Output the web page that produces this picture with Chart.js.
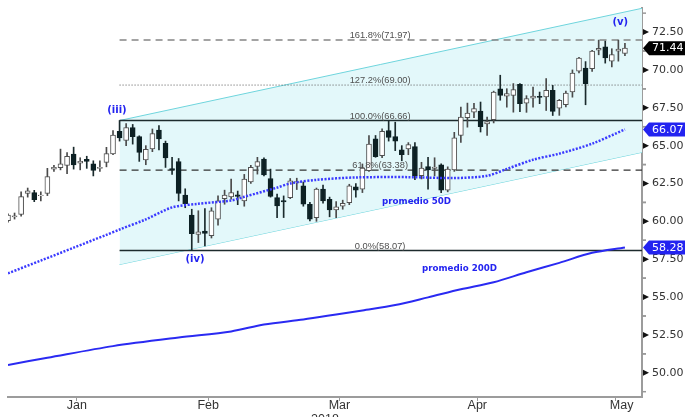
<!DOCTYPE html>
<html>
<head>
<meta charset="utf-8">
<script src="https://cdn.jsdelivr.net/npm/chart.js@4/dist/chart.umd.min.js"></script>
<style>
  html, body { margin: 0; padding: 0; background: #fff; }
  canvas { display: block; }
</style>
</head>
<body>
<canvas id="wtiChart" width="685" height="417"></canvas>
<script>
// daily candles, WTI crude
const dates = [
    '2017-12-29',
    '2018-01-02','2018-01-03','2018-01-04','2018-01-05','2018-01-08','2018-01-09','2018-01-10','2018-01-11','2018-01-12','2018-01-16',
    '2018-01-17','2018-01-18','2018-01-19','2018-01-22','2018-01-23','2018-01-24','2018-01-25','2018-01-26','2018-01-29','2018-01-30','2018-01-31',
    '2018-02-01','2018-02-02','2018-02-05','2018-02-06','2018-02-07','2018-02-08','2018-02-09','2018-02-12','2018-02-13','2018-02-14',
    '2018-02-15','2018-02-16','2018-02-20','2018-02-21','2018-02-22','2018-02-23','2018-02-26','2018-02-27','2018-02-28',
    '2018-03-01','2018-03-02','2018-03-05','2018-03-06','2018-03-07','2018-03-08','2018-03-09','2018-03-12','2018-03-13','2018-03-14',
    '2018-03-15','2018-03-16','2018-03-19','2018-03-20','2018-03-21','2018-03-22','2018-03-23','2018-03-26','2018-03-27','2018-03-28','2018-03-29',
    '2018-04-02','2018-04-03','2018-04-04','2018-04-05','2018-04-06','2018-04-09','2018-04-10','2018-04-11','2018-04-12','2018-04-13',
    '2018-04-16','2018-04-17','2018-04-18','2018-04-19','2018-04-20','2018-04-23','2018-04-24','2018-04-25','2018-04-26','2018-04-27','2018-04-30',
    '2018-05-01','2018-05-02','2018-05-03','2018-05-04','2018-05-07','2018-05-08','2018-05-09','2018-05-10','2018-05-11','2018-05-14',
    '2018-05-15','2018-05-16'
];

const openP = [
    60.05, 60.30, 60.45, 61.85, 61.90, 61.70, 61.85, 63.45, 63.55, 63.70,
    64.45, 63.85, 64.10, 63.80, 63.50, 63.90, 64.45, 65.95, 65.35, 66.20,
    65.60, 64.05, 64.78, 66.02, 65.16, 63.48, 63.95, 61.73, 60.42, 59.14,
    59.36, 59.05, 60.14, 61.50, 61.62, 61.75, 61.35, 62.61, 63.63, 64.12,
    62.83, 61.57, 61.38, 61.57, 62.55, 62.35, 61.13, 60.25, 62.13, 61.46,
    60.75, 61.00, 61.24, 62.28, 62.13, 63.34, 65.45, 64.34, 66.00, 65.60,
    64.72, 64.78, 64.93, 63.01, 63.61, 63.50, 63.74, 62.06, 63.39, 65.67,
    66.84, 67.21, 67.28, 66.44, 66.71, 68.76, 68.27, 68.32, 69.05, 67.81,
    68.14, 68.25, 68.21, 68.65, 67.48, 67.70, 68.54, 69.91, 70.13, 70.09,
    71.31, 71.53, 70.58, 71.24, 71.09
];
const highP = [
    60.50, 60.55, 61.95, 62.20, 62.05, 61.95, 63.50, 63.70, 64.77, 64.55,
    64.90, 64.20, 64.30, 64.00, 64.00, 64.89, 66.00, 66.66, 66.45, 66.40,
    65.65, 65.00, 66.10, 66.33, 65.30, 64.23, 64.15, 62.15, 60.80, 60.70,
    60.85, 60.90, 61.68, 62.06, 62.79, 62.00, 63.10, 63.70, 64.23, 64.20,
    63.45, 61.80, 61.68, 62.83, 62.85, 62.60, 61.25, 62.20, 62.40, 61.60,
    61.30, 61.40, 62.45, 62.50, 63.79, 65.67, 65.67, 66.11, 66.66, 66.55,
    65.00, 65.20, 65.20, 63.90, 64.23, 64.20, 63.80, 63.60, 65.88, 67.54,
    67.81, 67.80, 67.88, 66.88, 68.60, 69.65, 68.76, 69.10, 69.10, 68.30,
    68.87, 68.54, 69.43, 68.98, 68.05, 68.60, 70.00, 70.84, 70.55, 71.30,
    71.97, 71.90, 71.40, 71.97, 71.75
];
const lowP = [
    59.95, 60.15, 60.35, 61.60, 61.30, 61.35, 61.70, 63.30, 63.40, 63.15,
    63.45, 63.40, 63.50, 63.00, 63.30, 63.60, 64.40, 65.30, 65.00, 65.10,
    63.96, 63.74, 64.60, 64.72, 63.56, 63.10, 61.35, 60.90, 58.07, 58.60,
    58.37, 58.90, 59.75, 61.13, 61.46, 61.10, 61.00, 62.50, 63.12, 63.00,
    61.60, 60.25, 60.25, 61.50, 62.10, 61.00, 60.03, 60.00, 61.20, 60.30,
    60.25, 60.80, 61.10, 61.60, 61.90, 63.30, 64.23, 64.20, 65.30, 64.67,
    64.00, 64.40, 62.75, 62.80, 62.13, 63.00, 61.90, 61.95, 63.30, 65.22,
    66.22, 66.85, 65.90, 65.67, 66.50, 68.00, 67.54, 67.21, 67.25, 67.20,
    67.54, 67.77, 67.32, 66.99, 67.00, 67.55, 68.20, 69.80, 67.70, 69.90,
    71.00, 70.45, 70.20, 70.58, 70.95
];
const closeP = [
    60.42, 60.37, 61.63, 62.01, 61.44, 61.73, 62.96, 63.57, 63.80, 64.30,
    63.73, 63.97, 63.95, 63.37, 63.57, 64.47, 65.70, 65.51, 66.20, 65.60,
    64.56, 64.75, 65.80, 65.45, 64.19, 63.39, 61.84, 61.17, 59.18, 59.30,
    59.20, 60.69, 61.35, 61.73, 61.90, 61.64, 62.79, 63.56, 63.94, 63.06,
    61.64, 61.02, 61.28, 62.68, 62.62, 61.13, 60.14, 62.13, 61.35, 60.75,
    60.96, 61.19, 62.35, 62.06, 63.52, 65.11, 64.27, 65.95, 65.55, 65.29,
    64.41, 65.07, 63.01, 63.52, 63.39, 63.58, 62.06, 63.46, 65.51, 66.88,
    67.15, 67.44, 66.26, 66.59, 68.54, 68.32, 68.43, 68.70, 67.77, 68.10,
    68.27, 68.18, 68.65, 67.26, 67.99, 68.47, 69.80, 70.79, 69.10, 71.24,
    71.42, 70.79, 71.02, 71.37, 71.44
];

// moving averages, read at a few points along each curve
const ma50Idx = [0, 5, 10, 15, 17, 21, 25, 29, 34, 36, 41, 43, 47, 53, 61, 68, 73, 76, 80, 84, 89, 94];
const ma50Val = [56.57, 57.41, 58.26, 59.11, 59.46, 60.13, 60.92, 61.16, 61.38, 61.62, 62.23, 62.50, 62.74, 62.90, 62.92, 62.86, 63.01, 63.46, 64.07, 64.47, 65.13, 66.07];
const ma200Idx = [0, 6, 16, 26, 34, 39, 45, 50, 54, 59, 64, 69, 74, 79, 84, 89, 94];
const ma200Val = [50.52, 50.99, 51.76, 52.33, 52.73, 53.19, 53.52, 53.85, 54.12, 54.47, 54.98, 55.51, 55.98, 56.64, 57.26, 57.92, 58.28];

// trend channel (iii) -> right edge
const channelIdx = [17, 96.6];
const channelUpper = [66.66, 74.07];
const channelLower = [57.15, 64.56];

// fibonacci levels
const fibNames = ['161.8%', '127.2%', '100.0%', '61.8%', '0.0%'];
const fibLevels = [71.97, 69.00, 66.66, 63.38, 58.07];

const yTicks = [50, 52.5, 55, 57.5, 60, 62.5, 65, 67.5, 70, 72.5];
const monthNames = ['Jan', 'Feb', 'Mar', 'Apr', 'May'];

const X_MIN = 0;
const X_MAX = 96.6;

const fibStyles = [
    { color: '#858585', dash: [7, 5], width: 1.5 },
    { color: '#555555', dash: [1, 2], width: 1 },
    { color: '#1d2b2d', dash: [], width: 1.5 },
    { color: '#333333', dash: [7, 5], width: 1.2 },
    { color: '#1d2b2d', dash: [], width: 1.5 }
];

const labels = [
    { text: '(iii)', x: 16.6, y: 67.32, font: 'bold 10px "DejaVu Sans"' },
    { text: '(iv)', x: 28.5, y: 57.5, font: 'bold 10px "DejaVu Sans"' },
    { text: '(v)', x: 93.3, y: 73.16, font: 'bold 10px "DejaVu Sans"' },
    { text: 'promedio 50D', x: 62.25, y: 61.28, font: 'bold 8.7px "DejaVu Sans"' },
    { text: 'promedio 200D', x: 68.8, y: 56.84, font: 'bold 8.7px "DejaVu Sans"' }
];

const BLUE = '#2323f0';
const UP_BORDER = '#505050';
const DOWN_FILL = '#0d2124';

function monthEnds() {
    const ends = [];
    for (let i = 0; i < dates.length - 1; i++) {
        if (dates[i].slice(5, 7) !== dates[i + 1].slice(5, 7)) ends.push(i);
    }
    return ends;
}

function points(xs, ys) {
    return xs.map((x, i) => ({ x: x, y: ys[i] }));
}

function drawBadge(ctx, x0, y, text, bg) {
    const h = 14;
    ctx.fillStyle = bg;
    ctx.beginPath();
    ctx.moveTo(x0, y);
    ctx.lineTo(x0 + 6, y - h / 2);
    ctx.lineTo(685, y - h / 2);
    ctx.lineTo(685, y + h / 2);
    ctx.lineTo(x0 + 6, y + h / 2);
    ctx.closePath();
    ctx.fill();
    ctx.fillStyle = '#fff';
    ctx.font = '11px "DejaVu Sans"';
    ctx.textAlign = 'left';
    ctx.textBaseline = 'middle';
    ctx.fillText(text, x0 + 9, y + 0.5);
}

const overlayPlugin = {
    id: 'overlay',
    afterDraw(chart) {
        const ctx = chart.ctx;
        const xs = chart.scales.x;
        const ys = chart.scales.y;
        const area = chart.chartArea;
        ctx.save();

        // fib labels
        ctx.font = '9.3px "Liberation Sans"';
        ctx.fillStyle = '#505050';
        ctx.textAlign = 'center';
        ctx.textBaseline = 'alphabetic';
        fibLevels.forEach((lv, k) => {
            ctx.fillText(fibNames[k] + '(' + lv.toFixed(2) + ')', xs.getPixelForValue(56.7), ys.getPixelForValue(lv) - 2);
        });

        // wave counts and average names
        ctx.fillStyle = BLUE;
        ctx.textBaseline = 'middle';
        labels.forEach(l => {
            ctx.font = l.font;
            ctx.fillText(l.text, xs.getPixelForValue(l.x), ys.getPixelForValue(l.y));
        });

        // month labels centred between month-end ticks
        const ends = monthEnds();
        ctx.font = '12.5px "Liberation Sans"';
        ctx.fillStyle = '#333';
        monthNames.forEach((m, k) => {
            const a = ends[k];
            const b = k + 1 < ends.length ? ends[k + 1] : a + 23;
            ctx.fillText(m, xs.getPixelForValue((a + b) / 2), area.bottom + 9);
        });
        ctx.textBaseline = 'top';
        ctx.fillText('2018', (area.left + area.right) / 2, area.bottom + 16);

        // y axis arrows and minor ticks
        ctx.fillStyle = '#111';
        ctx.strokeStyle = '#999';
        ctx.lineWidth = 1.5;
        yTicks.forEach(t => {
            const y = ys.getPixelForValue(t);
            ctx.beginPath();
            ctx.moveTo(area.right + 1, y - 3);
            ctx.lineTo(area.right + 7, y);
            ctx.lineTo(area.right + 1, y + 3);
            ctx.closePath();
            ctx.fill();
            [t - 1.25, t + 1.25].forEach(m => {
                if (m < ys.min || m > ys.max) return;
                const ym = ys.getPixelForValue(m);
                ctx.beginPath();
                ctx.moveTo(area.right, ym);
                ctx.lineTo(area.right + 4, ym);
                ctx.stroke();
            });
        });

        // last value badges
        const bx = area.right + 1;
        drawBadge(ctx, bx, ys.getPixelForValue(ma200Val[ma200Val.length - 1]), ma200Val[ma200Val.length - 1].toFixed(2), BLUE);
        drawBadge(ctx, bx, ys.getPixelForValue(ma50Val[ma50Val.length - 1]), ma50Val[ma50Val.length - 1].toFixed(2), BLUE);
        drawBadge(ctx, bx, ys.getPixelForValue(closeP[closeP.length - 1]), closeP[closeP.length - 1].toFixed(2), '#000');

        ctx.restore();
    }
};

function buildDatasets() {
    const wickData = dates.map((d, i) => ({ x: i, y: [lowP[i], highP[i]] }));
    const bodyData = dates.map((d, i) => ({ x: i, y: [openP[i], closeP[i]] }));
    const isUp = i => closeP[i] >= openP[i];

    const sets = [
        {
            type: 'line', data: points(channelIdx, channelUpper),
            borderColor: '#6fd5dd', borderWidth: 1, pointRadius: 0,
            fill: '+1', backgroundColor: '#e3f8fa', order: 10, clip: 0
        },
        {
            type: 'line', data: points(channelIdx, channelLower),
            borderColor: '#6fd5dd', borderWidth: 1, pointRadius: 0,
            fill: false, order: 10, clip: 0
        }
    ];

    fibLevels.forEach((lv, k) => {
        sets.push({
            type: 'line',
            data: [{ x: channelIdx[0], y: lv }, { x: X_MAX, y: lv }],
            borderColor: fibStyles[k].color,
            borderDash: fibStyles[k].dash,
            borderWidth: fibStyles[k].width,
            pointRadius: 0, fill: false, order: 7, clip: 0
        });
    });

    sets.push({
        type: 'bar', data: wickData,
        backgroundColor: ctx => isUp(ctx.dataIndex) ? '#4a4a4a' : '#1a2a2c',
        borderWidth: 0, barThickness: 1, grouped: false, order: 6, clip: 0
    });
    sets.push({
        type: 'bar', data: bodyData,
        backgroundColor: ctx => isUp(ctx.dataIndex) ? '#ffffff' : DOWN_FILL,
        borderColor: ctx => isUp(ctx.dataIndex) ? UP_BORDER : DOWN_FILL,
        borderWidth: 1, borderSkipped: false, barThickness: 5, grouped: false, order: 5, clip: 0
    });

    sets.push({
        type: 'line', data: points(ma50Idx, ma50Val),
        borderColor: '#3b3bff', borderWidth: 2.5, borderDash: [2, 1.5],
        pointRadius: 0, tension: 0.3, fill: false, order: 2, clip: 0
    });
    sets.push({
        type: 'line', data: points(ma200Idx, ma200Val),
        borderColor: '#2a2af2', borderWidth: 2, pointRadius: 0,
        tension: 0.3, fill: false, order: 1, clip: 0
    });
    return sets;
}

function renderChart() {
    const ctx = document.getElementById('wtiChart');
    new Chart(ctx, {
        type: 'line',
        data: { datasets: buildDatasets() },
        plugins: [overlayPlugin],
        options: {
            responsive: false,
            animation: false,
            layout: { padding: { left: 8, top: 8, right: 0, bottom: 0 } },
            plugins: { legend: { display: false }, tooltip: { enabled: false } },
            scales: {
                x: {
                    type: 'linear', min: X_MIN, max: X_MAX, offset: false,
                    afterBuildTicks: s => { s.ticks = monthEnds().map(v => ({ value: v })); },
                    afterFit: s => { s.height = 20; },
                    ticks: { display: false },
                    grid: { display: true, drawOnChartArea: false, drawTicks: true, tickLength: 4, color: '#999', lineWidth: 1 },
                    border: { display: true, color: '#9c9c9c', width: 2 }
                },
                y: {
                    type: 'linear', position: 'right', min: 48.40, max: 74.09, beginAtZero: false,
                    afterBuildTicks: s => { s.ticks = yTicks.map(v => ({ value: v })); },
                    afterFit: s => { s.width = 43; },
                    ticks: {
                        padding: 0, color: '#333',
                        font: { family: 'DejaVu Sans', size: 11 },
                        callback: v => Number(v).toFixed(2)
                    },
                    grid: { display: false, drawTicks: true, tickLength: 10 },
                    border: { display: true, color: '#9c9c9c', width: 2 }
                }
            }
        }
    });
}

document.addEventListener('DOMContentLoaded', function() {
    renderChart();
});
</script>
</body>
</html>
